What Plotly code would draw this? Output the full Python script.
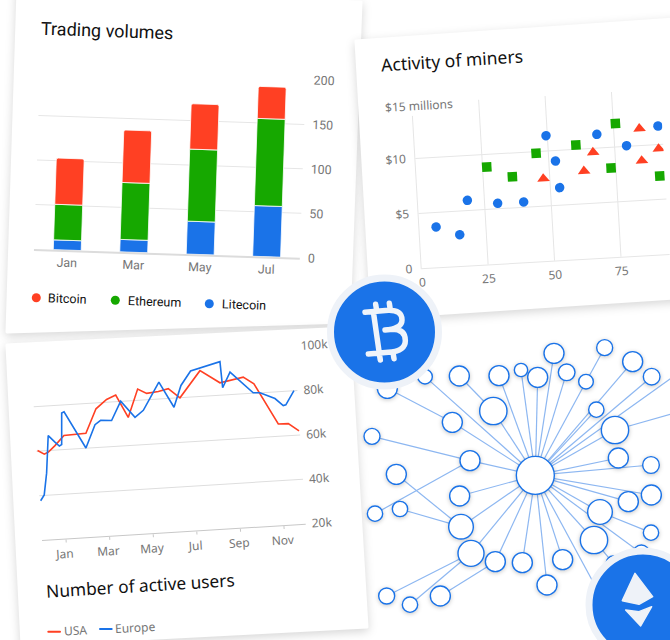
import plotly.graph_objects as go

RED, GREEN, BLUE = "#ff4023", "#16a800", "#1a73e8"
W, H = 670, 640

# ---------- Trading volumes
months1 = ["Jan", "Mar", "May", "Jul"]
litecoin = [11, 14, 37, 57]
ethereum = [40, 64, 81, 98]
bitcoin = [52, 59, 51, 36]

# ---------- Activity of miners
blue_x = [6.3, 15, 18.6, 29.9, 39.7, 49.5, 52.5, 53.5, 68.6, 79.5, 91.7]
blue_y = [3.68, 2.85, 5.93, 5.5, 5.49, 11.39, 9.04, 6.6, 11.24, 10.06, 11.68]
green_x = [26.6, 36, 45.4, 60.5, 73.2, 75.8, 91.3]
green_y = [8.86, 7.84, 9.84, 10.39, 8.12, 12.12, 7.13]
red_x = [47.6, 63, 66.8, 84.7, 84.9, 91.5]
red_y = [7.5, 7.98, 9.63, 11.54, 8.62, 9.62]

# ---------- Number of active users (x in months after January)
usa_x = [-1.05, -.75, -.56, -.24, .2, .63, 1.21, 1.74, 2.25, 2.68, 3.19, 3.7, 4.1, 4.64, 5.1, 5.61,
         6.6, 7.48, 8.56, 9.03, 10.03, 10.49, 10.96]
usa_y = [60.3, 58.5, 59.3, 62, 66.3, 66.4, 66.7, 77.4, 81.3, 83, 72.6, 85.1, 82.9, 83.4, 84.4, 80,
         91.6, 85.6, 87.5, 84.2, 65.5, 65.4, 61.8]
eur_x = [-1.05, -.87, -.7, -.52, -.23, -.04, .07, .16, .27, 1.17, 1.65, 1.92, 2.42, 2.89, 3.5, 3.9,
         4.69, 5.31, 5.69, 6.17, 7.54, 7.59, 7.97, 8.97, 9.28, 9.95, 10.31, 10.43, 10.84]
eur_y = [37.7, 40.2, 49.9, 66.7, 63.6, 61.7, 62.3, 76.5, 76.9, 60.1, 70.3, 72.1, 71.7, 80.1, 72.5, 75.4,
         87.6, 75.9, 85.5, 91.7, 95.1, 83.3, 90.1, 80.2, 80, 77, 73.6, 73.9, 80]
month_ticks = [0, 2, 4, 6, 8, 10]
month_labels = ["Jan", "Mar", "May", "Jul", "Sep", "Nov"]

# ---------- Network: name -> (x, y, radius), parent
nodes = {
    "hub": (556, 466, 57, None), "a": (612, 100, 30, "hub"), "c": (708, 185, 22, "hub"), "b": (764, 83, 24, "c"),
    "d": (848, 125, 30, "hub"), "e": (905, 170, 25, "hub"), "g": (650, 157, 25, "hub"), "h": (563, 172, 30, "hub"),
    "i": (513, 150, 20, "hub"), "j": (447, 167, 30, "hub"), "l": (430, 273, 41, "hub"), "k": (328, 168, 30, "l"),
    "m": (225, 170, 22, "hub"), "o": (307, 307, 30, "hub"), "n": (112, 205, 30, "o"), "p": (739, 269, 23, "hub"),
    "f": (795, 330, 41, "hub"), "off1": (1040, 260, 25, "f"), "off2": (1040, 120, 25, "hub"), "q": (805, 414, 30, "hub"),
    "r": (903, 435, 25, "hub"), "s": (904, 525, 30, "hub"), "t": (835, 545, 30, "hub"), "u": (750, 576, 37, "hub"),
    "v": (903, 638, 23, "u"), "w": (732, 660, 41, "hub"), "w2": (790, 730, 22, "w"), "x": (874, 700, 25, "hub"),
    "y": (638, 719, 30, "hub"), "z": (591, 795, 30, "hub"), "aa": (517, 728, 30, "hub"), "bb": (436, 725, 30, "hub"),
    "cc": (271, 828, 30, "bb"), "dd": (363, 700, 39, "hub"), "ee": (110, 828, 24, "dd"), "ff": (180, 854, 23, "dd"),
    "gg": (333, 620, 37, "hub"), "hh": (150, 567, 23, "gg"), "ii": (139, 463, 30, "gg"), "jj": (329, 528, 30, "hub"),
    "kk": (360, 422, 30, "hub"), "ll": (66, 349, 24, "kk"), "mm": (75, 581, 23, "kk"), "nn": (780, 880, 22, "hub"),
}


def dx(a, b):
    return [a / W, b / W]


def dy(t, b):
    return [1 - b / H, 1 - t / H]


def poly(pts):
    return "M " + " L ".join(f"{x / W:.5f},{1 - y / H:.5f}" for x, y in pts) + " Z"


fig = go.Figure()
# bars
for name, vals, col in [("Litecoin", litecoin, BLUE), ("Ethereum", ethereum, GREEN), ("Bitcoin", bitcoin, RED)]:
    fig.add_trace(go.Bar(x=months1, y=vals, name=name, marker=dict(color=col, line=dict(color="white", width=0.8)),
                         xaxis="x", yaxis="y"))
# scatter
fig.add_trace(go.Scatter(x=blue_x, y=blue_y, mode="markers", name="blue", xaxis="x2", yaxis="y2",
                         marker=dict(color=BLUE, size=9.5, symbol="circle")))
fig.add_trace(go.Scatter(x=green_x, y=green_y, mode="markers", name="green", xaxis="x2", yaxis="y2",
                         marker=dict(color=GREEN, size=9.5, symbol="square")))
fig.add_trace(go.Scatter(x=red_x, y=red_y, mode="markers", name="red", xaxis="x2", yaxis="y2",
                         marker=dict(color=RED, size=11, symbol="triangle-up")))
# lines
fig.add_trace(go.Scatter(x=usa_x, y=usa_y, mode="lines", name="USA", xaxis="x3", yaxis="y3",
                         line=dict(color=RED, width=1.6)))
fig.add_trace(go.Scatter(x=eur_x, y=eur_y, mode="lines", name="Europe", xaxis="x3", yaxis="y3",
                         line=dict(color=BLUE, width=1.6)))
# network
lx, ly = [], []
for k, (x, y, r, p) in nodes.items():
    if p:
        lx += [x, nodes[p][0], None]
        ly += [y, nodes[p][1], None]
fig.add_trace(go.Scatter(x=lx, y=ly, mode="lines", xaxis="x4", yaxis="y4", name="links",
                         line=dict(color="#8db7f1", width=1.2)))
fig.add_trace(go.Scatter(x=[n[0] for n in nodes.values()], y=[n[1] for n in nodes.values()], text=list(nodes),
                         mode="markers", xaxis="x4", yaxis="y4", name="nodes",
                         marker=dict(color="white", opacity=1, size=[n[2] * 2 / 3 for n in nodes.values()],
                                     line=dict(color=BLUE, width=1.4))))

GRID = "#e6e6e6"
TXT = "#767676"
f1 = dict(family="Roboto", size=12.4, color=TXT)
f2 = dict(family="Noto Sans", size=12, color=TXT)

# BTC glyph, drawn in zoom coordinates
def bz(x, y):
    return (320 + x / 3) / W, 1 - (270 + y / 3) / H


def bpath(cmds):
    out = []
    for c, pts in cmds:
        out.append(c + " " + " ".join("%.5f,%.5f" % bz(*p) for p in pts))
    return " ".join(out)


btc = bpath([("M", [(135, 127)]), ("L", [(205, 121)]), ("Q", [(246, 120), (246, 150)]), ("Q", [(246, 176), (195, 180)]),
             ("L", [(218, 178)]), ("Q", [(256, 178), (256, 212)]), ("Q", [(256, 243), (205, 247)]), ("L", [(145, 252)]),
             ("M", [(160, 125)]), ("L", [(178, 250)]),
             ("M", [(167, 103)]), ("L", [(170, 122)]), ("M", [(208, 100)]), ("L", [(211, 120)]),
             ("M", [(178, 252)]), ("L", [(181, 270)]), ("M", [(219, 248)]), ("L", [(222, 266)])])


def ez(pts):
    return poly([(570 + x / 3, 540 + y / 3) for x, y in pts])


shapes = [
    dict(type="path", xref="paper", yref="paper", path=poly([(18, -10), (361, 2), (349, 322), (7, 332)]),
         fillcolor="white", line=dict(color="white", width=3), layer="below"),
    dict(type="path", xref="paper", yref="paper", path=poly([(7, 345), (349, 328), (367, 627), (22, 645)]),
         fillcolor="white", line=dict(color="white", width=3), layer="below"),
    dict(type="path", xref="paper", yref="paper", path=poly([(356, 41), (690, 18), (690, 297), (372, 318)]),
         fillcolor="white", line=dict(color="white", width=3), layer="below"),
]
# badges
for cx, cy in [(384.5, 332), (643, 605)]:
    shapes.append(dict(type="circle", xref="paper", yref="paper", layer="above",
                       x0=(cx - 54) / W, x1=(cx + 54) / W, y0=1 - (cy + 54) / H, y1=1 - (cy - 54) / H,
                       fillcolor=BLUE, line=dict(color="#eef2f8", width=7)))
shapes.append(dict(type="path", xref="paper", yref="paper", layer="above", path=btc,
                   line=dict(color="#f0f4fa", width=5.5)))
shapes.append(dict(type="path", xref="paper", yref="paper", layer="above",
                   path=ez([(195, 100), (248, 170), (207, 193), (157, 182)]), fillcolor="#eef2f8",
                   line=dict(color="#eef2f8", width=1.5)))
shapes.append(dict(type="path", xref="paper", yref="paper", layer="above",
                   path=ez([(167, 210), (207, 215), (245, 200), (212, 258)]), fillcolor="#eef2f8",
                   line=dict(color="#eef2f8", width=1.5)))
# legend symbols
for cx, cy, c in [(36.3, 297.7, RED), (115.3, 300.3, GREEN), (209.3, 303.7, BLUE)]:
    shapes.append(dict(type="circle", xref="paper", yref="paper", layer="above",
                       x0=(cx - 4.5) / W, x1=(cx + 4.5) / W, y0=1 - (cy + 4.5) / H, y1=1 - (cy - 4.5) / H,
                       fillcolor=c, line=dict(width=0)))
for x0, x1, y, c in [(48.3, 60, 631.7, RED), (100, 111.7, 629, BLUE)]:
    shapes.append(dict(type="line", xref="paper", yref="paper", layer="above", x0=x0 / W, x1=x1 / W,
                       y0=1 - y / H, y1=1 - y / H, line=dict(color=c, width=2)))


def note(text, x, y, size, angle, family="Roboto", color="#111111", **kw):
    return dict(text=text, x=x / W, y=1 - y / H, xref="paper", yref="paper", showarrow=False, textangle=angle,
                xanchor="center", yanchor="middle", font=dict(family=family, size=size, color=color), **kw)


annotations = [
    note("Trading volumes", 107.3, 30, 18, 2),
    note("Bitcoin", 67.7, 298.7, 12.5, 2),
    note("Ethereum", 154, 301.7, 12.5, 2),
    note("Litecoin", 243.7, 304.7, 12.5, 2),
    note("Activity of miners", 451.7, 59.5, 17.5, -3.6, "Noto Sans"),
    note("$15 millions", 418.7, 105, 12, -3.3, "Noto Sans", TXT, bgcolor="white"),
    note("Number of active users", 140, 585, 17.3, -3.5, "Noto Sans"),
    note("USA", 75, 630, 12, -3, "Noto Sans", TXT),
    note("Europe", 135, 627, 12, -3, "Noto Sans", TXT),
]

fig.update_layout(
    width=W, height=H, margin=dict(l=0, r=0, t=0, b=0, pad=0, autoexpand=False),
    paper_bgcolor="white", plot_bgcolor="rgba(0,0,0,0)",
    showlegend=False, barmode="stack", bargap=0.58, barcornerradius=2, shapes=shapes, annotations=annotations,
    xaxis=dict(domain=dx(34, 300), anchor="y", type="category", categoryorder="array", categoryarray=months1,
               showgrid=False, showline=True, linecolor="#dcdcdc", linewidth=2, tickfont=f1, ticks=""),
    yaxis=dict(domain=dy(71, 249), anchor="x", side="right", range=[0, 200], tickvals=[0, 50, 100, 150, 200],
               gridcolor=GRID, gridwidth=1.3, zeroline=False, tickfont=f1, ticklabelstandoff=7),
    xaxis2=dict(domain=dx(421.7, 670), anchor="y2", range=[0, 93.3], tickvals=[0, 25, 50, 75], gridcolor=GRID,
                showline=True, linecolor=GRID, zeroline=False, tickfont=f2, ticklabelstandoff=3),
    yaxis2=dict(domain=dy(103.3, 268.3), anchor="x2", range=[0, 15], tickvals=[0, 5, 10, 15],
                ticktext=["0", "$5", "$10", ""], gridcolor=GRID, showline=True, linecolor=GRID, zeroline=False,
                tickfont=f2, ticklabelstandoff=6),
    xaxis3=dict(domain=dx(42, 306.2), anchor="y3", range=[-1.1, 11], tickvals=month_ticks, ticktext=month_labels,
                showgrid=False, showline=True, linecolor="#c8c8c8", zeroline=False, ticks="outside", ticklen=3,
                tickcolor="#c8c8c8", tickfont=f2, ticklabelshift=-2, ticklabelstandoff=1),
    yaxis3=dict(domain=dy(362, 540), anchor="x3", side="right", range=[20, 100], tickvals=[20, 40, 60, 80, 100],
                ticktext=["20k", "40k", "60k", "80k", "100k"], gridcolor="#dedede", zeroline=False, tickfont=f2,
                ticklabelstandoff=5),
    xaxis4=dict(domain=[0, 1], anchor="y4", range=[-1050, 960], visible=False),
    yaxis4=dict(domain=[0, 1], anchor="x4", range=[960, -960], visible=False),
)

post = """
document.body.style.margin='0';
document.documentElement.style.overflow='hidden';
var g=document.getElementById('{plot_id}');
[['xy','rotate(1.9 34 249)'],['x2y2','rotate(-3.3 421.7 268.3)'],['x3y3','rotate(-3.55 43.3 540)']].forEach(function(p){
  g.querySelectorAll('.cartesianlayer .subplot.'+p[0]).forEach(function(e){e.setAttribute('transform',p[1]);});
});
g.querySelectorAll('.cartesianlayer path').forEach(function(e){e.style.shapeRendering='geometricPrecision';});
g.querySelectorAll('.layer-below .shapelayer path, .shapelayer path').forEach(function(e){e.style.shapeRendering='geometricPrecision';});
g.querySelectorAll('.layer-below path').forEach(function(e){
  e.style.filter='drop-shadow(0 3px 5px rgba(0,0,0,.16))';e.style.strokeLinejoin='round';});
g.querySelectorAll('.layer-above path').forEach(function(e){e.style.strokeLinecap='round';e.style.strokeLinejoin='round';});
g.querySelectorAll('.subplot.x4y4 .points').forEach(function(e){e.style.filter='drop-shadow(0 1.5px 2px rgba(0,0,0,.22))';});
"""
fig.write_html("out.html", post_script=post, config=dict(displayModeBar=False))
